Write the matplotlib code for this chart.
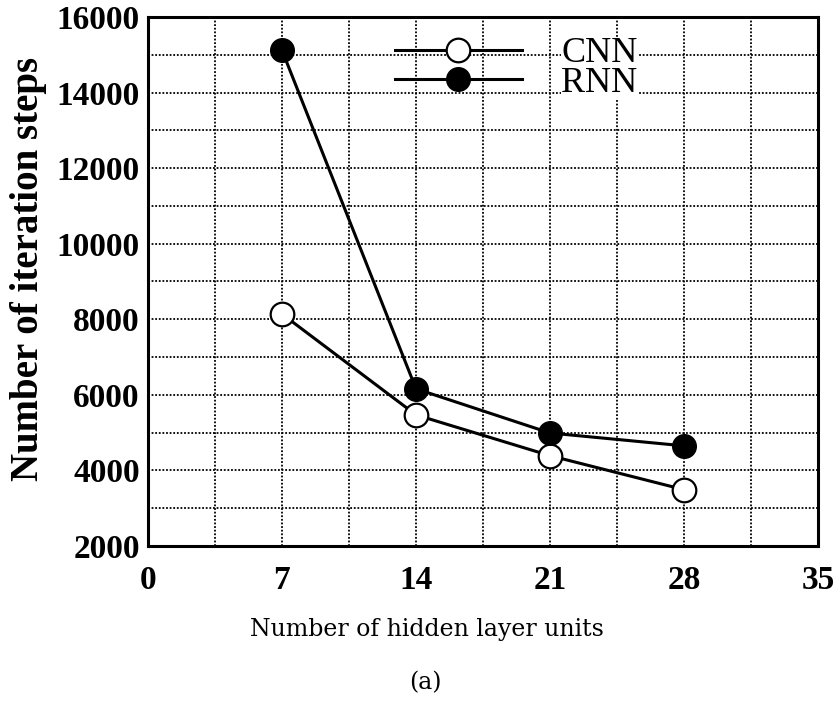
import numpy as np
import matplotlib.pyplot as plt

# data
hidden_units = [7, 14, 21, 28]
cnn_steps = [8140, 5470, 4390, 3490]
rnn_steps = [15120, 6160, 4990, 4650]

x_ticks = [0, 7, 14, 21, 28, 35]
y_ticks = [2000, 4000, 6000, 8000, 10000, 12000, 14000, 16000]

plt.rcParams['font.family'] = ['Liberation Serif', 'DejaVu Serif']

fig = plt.figure(figsize=(8.38, 7.15), dpi=100)
ax = fig.add_axes([0.1766, 0.2364, 0.7995, 0.7398])

# RNN drawn after CNN so the filled markers sit on top
l_cnn, = ax.plot(hidden_units, cnn_steps, color='black', lw=2.2, marker='o',
                 markersize=17, markerfacecolor='white', markeredgecolor='black',
                 markeredgewidth=1.6, zorder=3)
l_rnn, = ax.plot(hidden_units, rnn_steps, color='black', lw=2.2, marker='o',
                 markersize=17, markerfacecolor='black', markeredgecolor='black',
                 zorder=4)

ax.set_xlim(0, 35)
ax.set_ylim(2000, 16000)
ax.set_xticks(x_ticks)
ax.set_yticks(y_ticks)
ax.set_xticks(np.arange(0, 35.1, 3.5), minor=True)
ax.set_yticks(np.arange(2000, 16001, 1000), minor=True)
ax.grid(which='both', color='black', linestyle=(0, (1, 1)), linewidth=1.3)
ax.set_axisbelow(True)
ax.tick_params(which='both', length=0)
ax.tick_params(axis='x', pad=14)
ax.tick_params(axis='y', pad=6)
for lab in ax.get_xticklabels() + ax.get_yticklabels():
    lab.set_fontsize(24)
    lab.set_fontweight('bold')
for sp in ax.spines.values():
    sp.set_linewidth(2.2)

ax.set_ylabel('Number of iteration steps', fontsize=28, fontweight='bold')
ax.yaxis.set_label_coords(-0.15, 0.524)

leg = ax.legend([l_cnn, l_rnn], ['CNN', 'RNN'], loc='upper left',
                bbox_to_anchor=(0.369, 0.962), frameon=False, fontsize=26,
                handlelength=3.5, handletextpad=1.1, labelspacing=-0.1,
                borderpad=0, borderaxespad=0)
for t in leg.get_texts():
    t.set_bbox(dict(facecolor='white', edgecolor='none', pad=0))

fig.text(0.509, 0.119, 'Number of hidden layer units', fontsize=17,
         ha='center', va='center', family=['DejaVu Serif'])
fig.text(0.508, 0.045, '(a)', fontsize=17, ha='center', va='center',
         family=['DejaVu Serif'])

fig.savefig('out.png', dpi=100)
